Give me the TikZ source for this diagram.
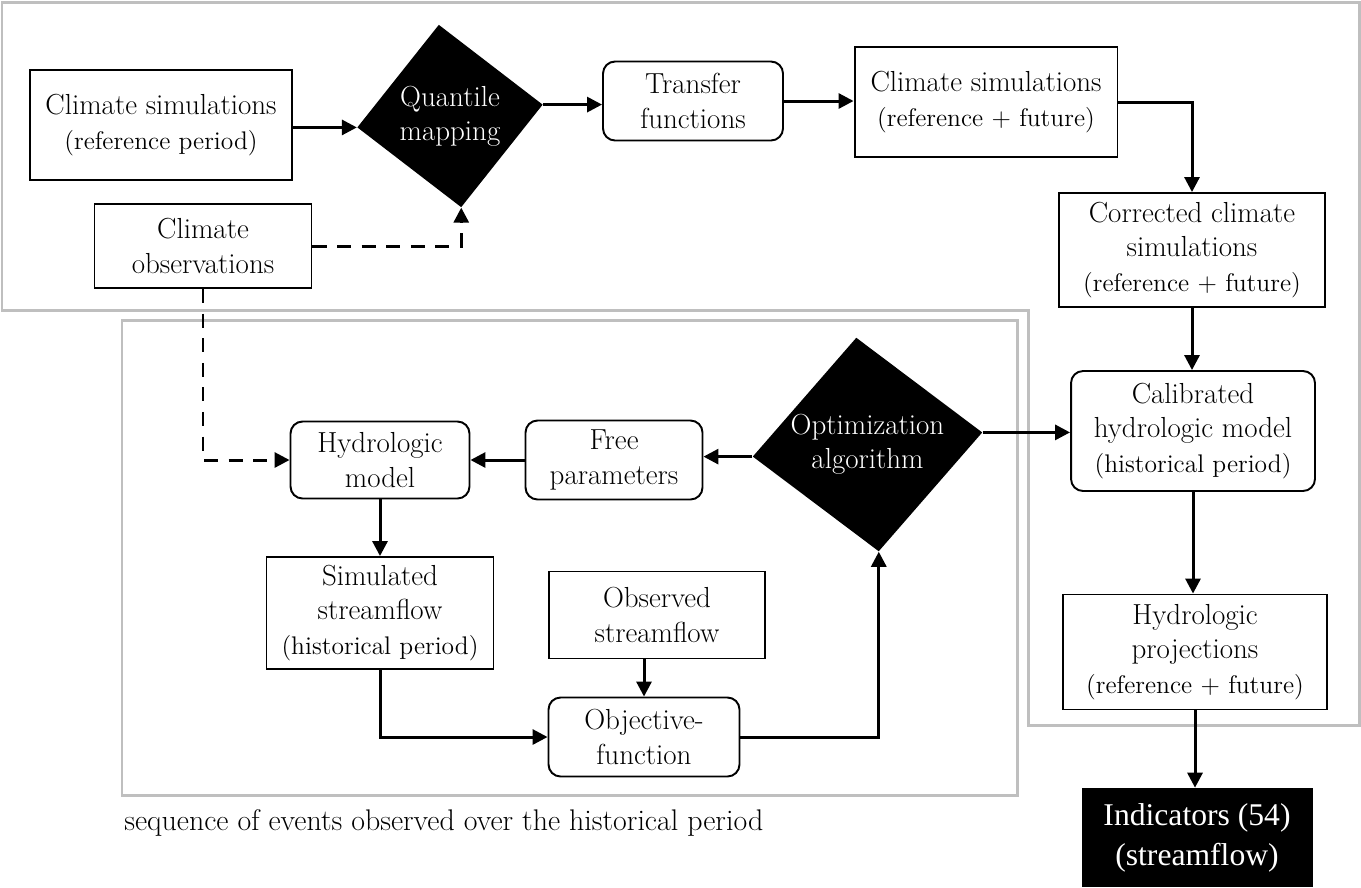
\documentclass[tikz,border=0pt]{standalone}
\usepackage{fontspec}
\newfontfamily\timesfont{Liberation Serif}
\usetikzlibrary{arrows.meta,shapes.geometric}
\newcommand\subtxt[1]{{\fontsize{14.5}{17}\selectfont #1}}

\begin{document}
\begin{tikzpicture}[x=0.02cm,y=-0.02cm,
	box/.style={draw,line width=1.1pt,align=center,inner sep=0pt,font=\fontsize{16.5}{19.5}\selectfont},
	rbox/.style={box,rounded corners=0.24cm},
	dia/.style={diamond,fill=black,inner sep=0pt},
	diatext/.style={text=white,align=center,font=\fontsize{16.5}{19.5}\selectfont},
	flow/.style={line width=1.7pt,-{Triangle[length=3mm,width=3mm]}},
	obsline/.style={flow,dash pattern=on 8pt off 6pt},
	grayframe/.style={draw=black!25,line width=1.7pt}]
	\useasboundingbox (0,0) rectangle (1361,887);

	\draw[grayframe] (2,2) -- (1359,2) -- (1359,725) -- (1028,725) -- (1028,310) -- (2,310) -- cycle;
	\draw[grayframe] (122,320) rectangle (1017,795);

	\node[box,minimum width=5.24cm,minimum height=2.2cm] (csim) at (161,125) {Climate simulations\\\subtxt{(reference period)}};
	\node[dia,rotate=7,minimum width=3.74cm,minimum height=3.68cm] (qm) at (450,116) {};
	\node[diatext] (qmtext) at (qm) {Quantile\\mapping};
	\node[rbox,minimum width=3.6cm,minimum height=1.58cm] (tf) at (693,101) {Transfer\\functions};
	\node[box,minimum width=5.26cm,minimum height=2.2cm] (cfut) at (986,102) {Climate simulations\\\subtxt{(reference + future)}};
	\node[box,minimum width=4.34cm,minimum height=1.68cm] (cobs) at (203,246) {Climate\\observations};
	\node[box,minimum width=5.32cm,minimum height=2.28cm] (corr) at (1192,250) {Corrected climate\\simulations\\\subtxt{(reference + future)}};

	\node[rbox,minimum width=3.58cm,minimum height=1.54cm] (hyd) at (380,460) {Hydrologic\\model};
	\node[rbox,minimum width=3.54cm,minimum height=1.58cm] (free) at (614,460) {Free\\parameters};
	\node[dia,rotate=6,minimum width=4.62cm,minimum height=4.3cm] (opt) at (867.5,444.5) {};
	\node[diatext] (opttext) at (opt) {Optimization\\algorithm};
	\node[box,minimum width=4.54cm,minimum height=2.24cm] (sim) at (380,613) {Simulated\\streamflow\\\subtxt{(historical period)}};
	\node[box,minimum width=4.32cm,minimum height=1.74cm] (obs) at (657,615) {Observed\\streamflow};
	\node[rbox,minimum width=3.82cm,minimum height=1.58cm] (obj) at (644,737) {Objective-\\function};
	\node[rbox,minimum width=4.88cm,minimum height=2.4cm] (cal) at (1193,431) {Calibrated\\hydrologic model\\\subtxt{(historical period)}};
	\node[box,minimum width=5.28cm,minimum height=2.3cm] (proj) at (1195,652) {Hydrologic\\projections\\\subtxt{(reference + future)}};
	\node[fill=black,text=white,align=center,inner sep=0pt,font=\timesfont\fontsize{18}{22.7}\selectfont,minimum width=4.62cm,minimum height=1.98cm] (ind) at (1197,837.5) {Indicators (54)\\(streamflow)};
	\node[anchor=west,inner sep=0pt,font=\fontsize{17}{20}\selectfont] (note) at (124,823) {sequence of events observed over the historical period};

	\draw[flow] (csim.east |- qm.west) -- (qm.west);
	\draw[flow] (qm.east) -- (qm.east -| tf.west);
	\draw[flow] (tf.east) -- (tf.east -| cfut.west);
	\draw[flow] (cfut.east) -| (corr.north);
	\draw[obsline] (cobs.east) -| (qm.south);
	\draw[obsline] (cobs.south) |- (hyd.west);
	\draw[flow] (corr.south) -- (corr.south |- cal.north);
	\draw[flow] (cal.south) -- (cal.south |- proj.north);
	\draw[flow] (proj.south) -- (proj.south |- ind.north);
	\draw[flow] (opt.west) -- (opt.west -| free.east);
	\draw[flow] (opt.east) -- (opt.east -| cal.west);
	\draw[flow] (free.west) -- (hyd.east);
	\draw[flow] (hyd.south) -- (sim.north);
	\draw[flow] (sim.south) |- (obj.west);
	\draw[flow] (obs.south -| obj.north) -- (obj.north);
	\draw[flow] (obj.east) -| (opt.south);
\end{tikzpicture}
\end{document}
